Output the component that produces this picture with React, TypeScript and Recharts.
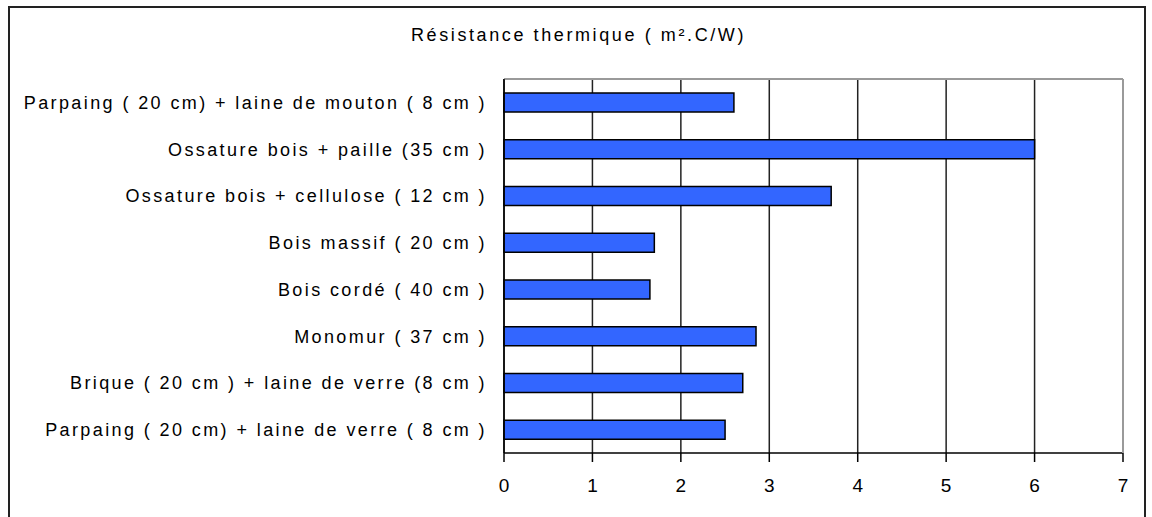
import { Bar, BarChart, CartesianGrid, XAxis, YAxis } from 'recharts';

const categories = [
    'Parpaing ( 20 cm) + laine de mouton ( 8 cm )',
    'Ossature bois + paille (35 cm )',
    'Ossature bois + cellulose ( 12 cm )',
    'Bois massif ( 20 cm )',
    'Bois cordé ( 40 cm )',
    'Monomur ( 37 cm )',
    'Brique ( 20 cm ) + laine de verre (8 cm )',
    'Parpaing ( 20 cm) + laine de verre ( 8 cm )',
];
const resistance = [2.6, 6.0, 3.7, 1.7, 1.65, 2.85, 2.7, 2.5];
const xTicks = [0, 1, 2, 3, 4, 5, 6, 7];
const bandTicks = [0, 1, 2, 3, 4, 5, 6, 7, 8];
const title = 'Résistance thermique ( m².C/W)';

const font = '"Liberation Sans", Arial, sans-serif';

const data = categories.map((name, i) => ({ name, value: resistance[i] }));

export default function App() {
    return (
        <div
            style={{
                position: 'fixed',
                left: 0,
                top: 0,
                width: 1152,
                height: 517,
                overflow: 'hidden',
                background: '#fff',
                fontFamily: font,
            }}
        >
            <div
                style={{
                    position: 'absolute',
                    left: 8,
                    top: 6,
                    width: 1138,
                    height: 540,
                    border: '2px solid #222',
                    boxSizing: 'border-box',
                }}
            />
            <div
                style={{
                    position: 'absolute',
                    left: 0,
                    top: 25,
                    width: 1157,
                    textAlign: 'center',
                    fontSize: 18,
                    lineHeight: '20px',
                    letterSpacing: 2.6,
                    color: '#000',
                }}
            >
                {title}
            </div>
            <div style={{ position: 'absolute', left: 0, top: 0 }}>
                <BarChart
                    width={1152}
                    height={517}
                    data={data}
                    layout="vertical"
                    margin={{ top: 78, right: 28, bottom: 0, left: 0 }}
                >
                    <CartesianGrid horizontal={false} stroke="#222" strokeWidth={1.5} yAxisId="band" />
                    <XAxis
                        type="number"
                        domain={[0, 7]}
                        ticks={xTicks}
                        interval={0}
                        height={64}
                        tickSize={9}
                        tickMargin={17}
                        axisLine={{ stroke: '#000', strokeWidth: 1.5 }}
                        tickLine={{ stroke: '#000', strokeWidth: 1.5 }}
                        tick={{ fill: '#000', fontSize: 19, fontFamily: font }}
                    />
                    <XAxis
                        xAxisId="top"
                        orientation="top"
                        type="number"
                        domain={[0, 7]}
                        ticks={xTicks}
                        height={1}
                        tick={false}
                        tickLine={false}
                        axisLine={{ stroke: '#9a9a9a', strokeWidth: 2 }}
                    />
                    <YAxis
                        yAxisId="band"
                        type="number"
                        domain={[0, 8]}
                        ticks={bandTicks}
                        interval={0}
                        width={1}
                        tick={false}
                        tickSize={8}
                        axisLine={{ stroke: '#000', strokeWidth: 1.5 }}
                        tickLine={{ stroke: '#000', strokeWidth: 1.5 }}
                    />
                    <YAxis
                        yAxisId="cat"
                        type="category"
                        dataKey="name"
                        width={503}
                        interval={0}
                        axisLine={false}
                        tickLine={false}
                        tickSize={0}
                        tickMargin={16}
                        tick={{ fill: '#000', fontSize: 18, fontFamily: font, letterSpacing: 2.4 }}
                    />
                    <YAxis
                        yAxisId="right"
                        orientation="right"
                        type="number"
                        domain={[0, 8]}
                        width={1}
                        tick={false}
                        tickLine={false}
                        axisLine={{ stroke: '#9a9a9a', strokeWidth: 2 }}
                    />
                    <Bar
                        yAxisId="cat"
                        dataKey="value"
                        barSize={19}
                        fill="#3366ff"
                        stroke="#000"
                        strokeWidth={1.5}
                        isAnimationActive={false}
                    />
                </BarChart>
            </div>
        </div>
    );
}
